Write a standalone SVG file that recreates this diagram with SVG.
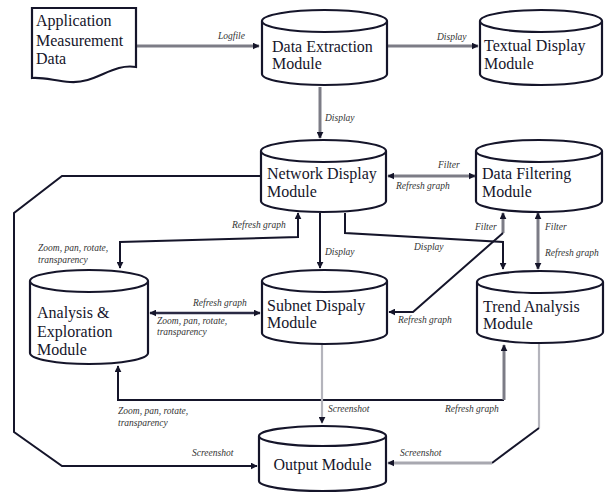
<svg xmlns="http://www.w3.org/2000/svg" width="607" height="495" viewBox="0 0 607 495">
<style>
.node{fill:#fff;stroke:#15152a;stroke-width:2.2}
.nt{font-family:"Liberation Serif","Times New Roman",serif;font-size:16px;fill:#15152a}
.lb{font-family:"Liberation Serif","Times New Roman",serif;font-size:9.5px;font-style:italic;fill:#333}
.dk{fill:none;stroke:#15152a;stroke-width:2}
.gr{fill:none;stroke:#7c7c86;stroke-width:3}
.lt{fill:none;stroke:#b4b4bc;stroke-width:2.2}
</style>
<defs>
<marker id="ah" viewBox="0 0 10 10" refX="9" refY="5" markerWidth="7" markerHeight="7" markerUnits="userSpaceOnUse" orient="auto-start-reverse">
<path d="M0,0 L10,5 L0,10 z" fill="#15152a"/>
</marker>
</defs>
<rect width="607" height="495" fill="#fff"/>

<g id="connectors">
<path class="gr" d="M136 46 H259" marker-end="url(#ah)"/>
<path class="gr" d="M387 46 H478" marker-end="url(#ah)"/>
<path class="gr" d="M320 87 V138" marker-end="url(#ah)"/>
<path class="gr" d="M388 176 H475" marker-start="url(#ah)" marker-end="url(#ah)"/>
<path class="dk" d="M261 176 H62 L14 213 V432 L62 466 H257" marker-end="url(#ah)"/>
<path class="dk" d="M298 213 V237 L120 242 V268" marker-start="url(#ah)" marker-end="url(#ah)"/>
<path class="dk" d="M320 213 V268" marker-end="url(#ah)"/>
<path class="dk" d="M345 213 V233 L503 242 V269" marker-end="url(#ah)"/>
<path class="gr" d="M503 213 V233" marker-start="url(#ah)"/>
<path class="dk" d="M503 233 L413 312 H389" marker-end="url(#ah)"/>
<path class="gr" d="M538 213 V269" marker-start="url(#ah)" marker-end="url(#ah)"/>
<path class="dk" style="stroke:#2a2a44;stroke-width:2.5" d="M150 313 H260" marker-start="url(#ah)" marker-end="url(#ah)"/>
<path class="dk" d="M118 366 V400 H504" marker-start="url(#ah)"/>
<path class="gr" d="M504 400 V345" marker-end="url(#ah)"/>
<path class="lt" d="M322 344 V423" marker-end="url(#ah)"/>
<path class="lt" d="M539 343 V428"/>
<path class="dk" d="M539 428 L492 463"/>
<path class="lt" style="stroke:#a8a8b0;stroke-width:3" d="M492 463 H388" marker-end="url(#ah)"/>

<text class="lb" x="218" y="39">Logfile</text>
<text class="lb" x="437" y="40">Display</text>
<text class="lb" x="325" y="121">Display</text>
<text class="lb" x="438" y="168">Filter</text>
<text class="lb" x="396" y="189">Refresh graph</text>
<text class="lb" x="232" y="228">Refresh graph</text>
<text class="lb" x="38" y="251">Zoom, pan, rotate,</text>
<text class="lb" x="38" y="263">transparency</text>
<text class="lb" x="325" y="255">Display</text>
<text class="lb" x="414" y="250">Display</text>
<text class="lb" x="475" y="230">Filter</text>
<text class="lb" x="545" y="230">Filter</text>
<text class="lb" x="545" y="256">Refresh graph</text>
<text class="lb" x="193" y="306">Refresh graph</text>
<text class="lb" x="157" y="324">Zoom, pan, rotate,</text>
<text class="lb" x="157" y="335">transparency</text>
<text class="lb" x="398" y="323">Refresh graph</text>
<text class="lb" x="118" y="414">Zoom, pan, rotate,</text>
<text class="lb" x="118" y="426">transparency</text>
<text class="lb" x="328" y="412">Screenshot</text>
<text class="lb" x="445" y="412">Refresh graph</text>
<text class="lb" x="192" y="456">Screenshot</text>
<text class="lb" x="400" y="456">Screenshot</text>
</g>

<g id="app-data">
<path class="node" d="M32 8 H136 V67 C112 63 96 84 70 82 C55 81 44 77 32 78 Z"/>
<text class="nt" x="36" y="26">Application</text>
<text class="nt" x="36" y="46">Measurement</text>
<text class="nt" x="36" y="64">Data</text>
</g>

<g id="data-extraction">
<path class="node" d="M262 21 V74 A62.5 11 0 0 0 387 74 V21 A62.5 11 0 0 0 262 21 A62.5 11 0 0 0 387 21"/>
<text class="nt" x="272" y="52">Data Extraction</text>
<text class="nt" x="272" y="69">Module</text>
</g>

<g id="textual-display">
<path class="node" d="M480 21 V74 A61 11 0 0 0 602 74 V21 A61 11 0 0 0 480 21 A61 11 0 0 0 602 21"/>
<text class="nt" x="484" y="51">Textual Display</text>
<text class="nt" x="484" y="69">Module</text>
</g>

<g id="network-display">
<path class="node" d="M261 151 V201 A62.5 11 0 0 0 386 201 V151 A62.5 11 0 0 0 261 151 A62.5 11 0 0 0 386 151"/>
<text class="nt" x="267" y="179">Network Display</text>
<text class="nt" x="267" y="197">Module</text>
</g>

<g id="data-filtering">
<path class="node" d="M476 151 V201 A63 11 0 0 0 602 201 V151 A63 11 0 0 0 476 151 A63 11 0 0 0 602 151"/>
<text class="nt" x="482" y="179">Data Filtering</text>
<text class="nt" x="482" y="197">Module</text>
</g>

<g id="analysis-exploration">
<path class="node" d="M30 281 V353 A59 11 0 0 0 148 353 V281 A59 11 0 0 0 30 281 A59 11 0 0 0 148 281"/>
<text class="nt" x="37" y="318">Analysis &amp;</text>
<text class="nt" x="37" y="337">Exploration</text>
<text class="nt" x="37" y="355">Module</text>
</g>

<g id="subnet-display">
<path class="node" d="M262 281 V333 A62.5 11 0 0 0 387 333 V281 A62.5 11 0 0 0 262 281 A62.5 11 0 0 0 387 281"/>
<text class="nt" x="267" y="311">Subnet Dispaly</text>
<text class="nt" x="267" y="328">Module</text>
</g>

<g id="trend-analysis">
<path class="node" d="M477 282 V332 A63 11 0 0 0 603 332 V282 A63 11 0 0 0 477 282 A63 11 0 0 0 603 282"/>
<text class="nt" x="483" y="312">Trend Analysis</text>
<text class="nt" x="483" y="329">Module</text>
</g>

<g id="output">
<path class="node" d="M259 436 V481 A63.5 10 0 0 0 386 481 V436 A63.5 10 0 0 0 259 436 A63.5 10 0 0 0 386 436"/>
<text class="nt" x="322.5" y="470" text-anchor="middle">Output Module</text>
</g>
</svg>
